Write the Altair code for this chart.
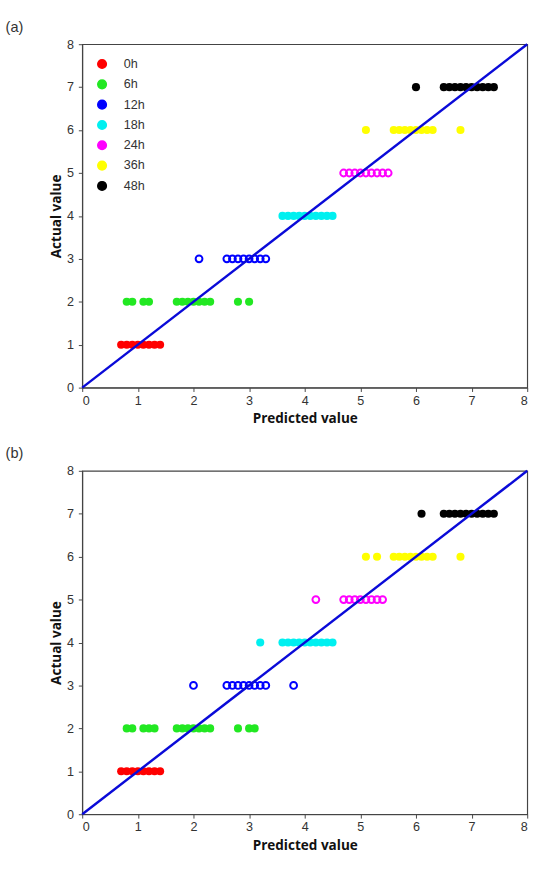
import altair as alt

SERIES = ["0h", "6h", "12h", "18h", "24h", "36h", "48h"]
ACTUAL = [1, 2, 3, 4, 5, 6, 7]
COLORS = ["#ff0000", "#22e822", "#0000ff", "#00f0f0", "#ff00ff", "#ffff00", "#000000"]
FILLED = ["0h", "6h", "18h", "36h", "48h"]
OPEN = ["12h", "24h"]

A_0h = [0.7, 0.8, 0.9, 1.0, 1.1, 1.2, 1.3, 1.4]
A_6h = [0.8, 0.9, 1.1, 1.2, 1.7, 1.8, 1.9, 2.0, 2.1, 2.2, 2.3, 2.8, 3.0]
A_12h = [2.1, 2.6, 2.7, 2.8, 2.9, 3.0, 3.1, 3.2, 3.3]
A_18h = [3.6, 3.7, 3.8, 3.9, 4.0, 4.1, 4.2, 4.3, 4.4, 4.5]
A_24h = [4.7, 4.8, 4.9, 5.0, 5.1, 5.2, 5.3, 5.4, 5.5]
A_36h = [5.1, 5.6, 5.7, 5.8, 5.9, 6.0, 6.1, 6.2, 6.3, 6.8]
A_48h = [6.0, 6.5, 6.6, 6.7, 6.8, 6.9, 7.0, 7.1, 7.2, 7.3, 7.4]

B_0h = [0.7, 0.8, 0.9, 1.0, 1.1, 1.2, 1.3, 1.4]
B_6h = [0.8, 0.9, 1.1, 1.2, 1.3, 1.7, 1.8, 1.9, 2.0, 2.1, 2.2, 2.3, 2.8, 3.0, 3.1]
B_12h = [2.0, 2.6, 2.7, 2.8, 2.9, 3.0, 3.1, 3.2, 3.3, 3.8]
B_18h = [3.2, 3.6, 3.7, 3.8, 3.9, 4.0, 4.1, 4.2, 4.3, 4.4, 4.5]
B_24h = [4.2, 4.7, 4.8, 4.9, 5.0, 5.1, 5.2, 5.3, 5.4]
B_36h = [5.1, 5.3, 5.6, 5.7, 5.8, 5.9, 6.0, 6.1, 6.2, 6.3, 6.8]
B_48h = [6.1, 6.5, 6.6, 6.7, 6.8, 6.9, 7.0, 7.1, 7.2, 7.3, 7.4]

IDEAL_START = [0.0, 0.0]
IDEAL_END = [8.0, 8.0]


def records(groups):
    rows = []
    for name, act, vals in zip(SERIES, ACTUAL, groups):
        for v in vals:
            rows.append({"grp": name, "px": float(v), "ay": float(act)})
    return rows


def panel(groups, label, h):
    base = alt.Chart(alt.Data(values=records(groups)))
    xenc = alt.X("px:Q", title="Predicted value", scale=alt.Scale(domain=[0, 8]),
                 axis=alt.Axis(grid=False, tickCount=8, tickSize=4,
                               labelPadding=3, titlePadding=5))
    yenc = alt.Y("ay:Q", title="Actual value", scale=alt.Scale(domain=[0, 8]),
                 axis=alt.Axis(grid=False, tickCount=8, tickSize=4,
                               labelPadding=5, titlePadding=3))
    cenc = alt.Color("grp:N", scale=alt.Scale(domain=SERIES, range=COLORS),
                     legend=alt.Legend(title=None, orient="top-left", offset=14,
                                       labelFontSize=13, labelColor="#333333",
                                       labelFont="Liberation Sans", labelOffset=16,
                                       symbolSize=80, rowPadding=6))
    filled = base.mark_point(filled=True, size=70, opacity=1).encode(
        x=xenc, y=yenc, color=cenc
    ).transform_filter(alt.FieldOneOfPredicate(field="grp", oneOf=FILLED))
    hollow = base.mark_point(filled=False, size=50, strokeWidth=2, opacity=1).encode(
        x=xenc, y=yenc, color=cenc
    ).transform_filter(alt.FieldOneOfPredicate(field="grp", oneOf=OPEN))
    diag = alt.Chart(alt.Data(values=[{"px": IDEAL_START[0], "ay": IDEAL_START[1],
                                       "px2": IDEAL_END[0], "ay2": IDEAL_END[1]}])).mark_rule(
        color="#0a0ad8", strokeWidth=2.5).encode(x="px:Q", y="ay:Q", x2="px2:Q", y2="ay2:Q")
    return alt.layer(filled, hollow, diag).properties(
        width=460, height=h,
        title=alt.TitleParams(label, anchor="start", dx=-46, fontSize=15,
                              font="Liberation Sans", fontWeight="normal",
                              color="#333333"),
    )


chart = alt.vconcat(
    panel([A_0h, A_6h, A_12h, A_18h, A_24h, A_36h, A_48h], "(a)", 355),
    panel([B_0h, B_6h, B_12h, B_18h, B_24h, B_36h, B_48h], "(b)", 355),
    spacing=20,
).configure_view(stroke="#444444", strokeWidth=1.2).configure_axis(
    labelFont="Liberation Sans", labelFontSize=13, labelColor="#333333",
    tickColor="#444444", domainColor="#444444", titleFont="Open Sans",
    titleFontSize=14, titleFontWeight="bold", titleColor="#111111",
)

chart.save("out.html", embed_options={"renderer": "svg", "actions": False})
